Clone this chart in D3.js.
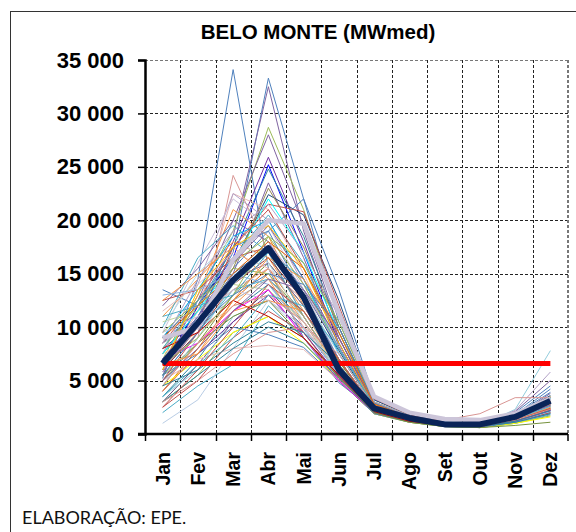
<!DOCTYPE html>
<meta charset="utf-8">
<style>
  body { margin: 0; background: #fff; }
  text { font-family: "Liberation Sans", Arial, sans-serif; }
</style>
<script src="https://d3js.org/d3.v7.min.js"></script>
<div id="chart"></div>
<script>
  // months and y ticks
  var months = ["Jan", "Fev", "Mar", "Abr", "Mai", "Jun", "Jul", "Ago", "Set", "Out", "Nov", "Dez"];
  var yTicks = [0, 5000, 10000, 15000, 20000, 25000, 30000, 35000];

  // past years (MWmed)
  var pastYears = [
    [5200, 14500, 34100, 15500, 9000, 4800, 2200, 1400, 900, 800, 1500, 3200],
    [6000, 11000, 17000, 33300, 22000, 10500, 3200, 1800, 1100, 1000, 1800, 4200],
    [5500, 12000, 18500, 32500, 19000, 9500, 3000, 1700, 1000, 900, 1600, 3800],
    [7000, 13000, 19000, 28700, 21000, 11000, 3000, 1700, 1000, 900, 1700, 3500],
    [6500, 12500, 20000, 28000, 19500, 10000, 2900, 1600, 1000, 900, 1700, 3400],
    [8000, 10500, 18000, 25900, 18000, 9000, 2600, 1500, 900, 800, 1500, 3000],
    [6000, 12000, 16500, 25200, 17000, 8500, 2500, 1500, 900, 800, 1400, 2800],
    [7500, 11500, 17500, 24800, 18500, 10000, 2800, 1600, 1000, 900, 1600, 3300],
    [5800, 10000, 15000, 23500, 16500, 8200, 2500, 1400, 900, 800, 1500, 3000],
    [9000, 12500, 16000, 22400, 20500, 12500, 3200, 1800, 1000, 900, 1700, 3600],
    [7000, 11000, 15500, 19000, 22000, 13500, 3400, 1900, 1100, 1000, 1800, 3900],
    [8500, 12500, 17500, 21500, 20800, 12000, 3300, 1800, 1000, 900, 1600, 3400],
    [4500, 9000, 24200, 17000, 11000, 6000, 2300, 1400, 900, 800, 1400, 2600],
    [6000, 11500, 22500, 21000, 15000, 8000, 2600, 1500, 900, 800, 1500, 2900],
    [7500, 14000, 22500, 20000, 14000, 7500, 2500, 1500, 900, 800, 1500, 3000],
    [9500, 16000, 22000, 19500, 13500, 7000, 2400, 1400, 900, 800, 1400, 2800],
    [6500, 13000, 21000, 18500, 12000, 6500, 2400, 1400, 900, 800, 1400, 2700],
    [12000, 15500, 20000, 18000, 12500, 6500, 2300, 1400, 900, 800, 1500, 2900],
    [13500, 12000, 17500, 19000, 13000, 7000, 2400, 1500, 900, 800, 1600, 3100],
    [11000, 14500, 18000, 16500, 11500, 6200, 2300, 1400, 900, 800, 1500, 2700],
    [12500, 13500, 16500, 17500, 12500, 6800, 2400, 1400, 900, 800, 1500, 3000],
    [10000, 16500, 19500, 17000, 11000, 6000, 2200, 1300, 800, 700, 1300, 2500],
    [9000, 13500, 18500, 20000, 14500, 7500, 2500, 1500, 900, 800, 1500, 2900],
    [8000, 12000, 16000, 18500, 14000, 8000, 2600, 1500, 900, 800, 1600, 3000],
    [7000, 10500, 15000, 17500, 13500, 7800, 2500, 1500, 900, 800, 1500, 2800],
    [6000, 9500, 14000, 16500, 12500, 7000, 2400, 1400, 900, 800, 1400, 2600],
    [5000, 8500, 13000, 16000, 12000, 6800, 2300, 1400, 800, 700, 1300, 2400],
    [4000, 8000, 12500, 15500, 11000, 6000, 2200, 1300, 800, 700, 1200, 2200],
    [3500, 7000, 11500, 14000, 10500, 5800, 2100, 1300, 800, 700, 1200, 2100],
    [3000, 6500, 10500, 13500, 10000, 5500, 2000, 1200, 800, 700, 1100, 2000],
    [2000, 4500, 6500, 12000, 9000, 5000, 1900, 1200, 700, 600, 1000, 1800],
    [1000, 3200, 8000, 12500, 9500, 5200, 2000, 1200, 800, 700, 1100, 1900],
    [2500, 5000, 9000, 11500, 9500, 5200, 2000, 1200, 800, 700, 1200, 2000],
    [3000, 5500, 9500, 11000, 9000, 5000, 1900, 1100, 700, 600, 1000, 1700],
    [4500, 7000, 9500, 11000, 8500, 5000, 1900, 1100, 700, 600, 1000, 1600],
    [5500, 7500, 10000, 9300, 8100, 5000, 1900, 1100, 700, 600, 1100, 1900],
    [5000, 7000, 8000, 8300, 7900, 5000, 2400, 1300, 900, 900, 1500, 2200],
    [4500, 8500, 12000, 15000, 10500, 5500, 2000, 1200, 800, 700, 1200, 2300],
    [5500, 9500, 13500, 14500, 11500, 6500, 2300, 1400, 900, 800, 1400, 2600],
    [6500, 10500, 13500, 15500, 12500, 7000, 2400, 1400, 900, 800, 1500, 2800],
    [8500, 11500, 14500, 16000, 12000, 6500, 2300, 1400, 900, 800, 1400, 2700],
    [9500, 12500, 15500, 15000, 11000, 6000, 2200, 1300, 800, 700, 1300, 2500],
    [10500, 11500, 14000, 13500, 10500, 6000, 2200, 1300, 800, 700, 1300, 2400],
    [7500, 9500, 12000, 13000, 10500, 6200, 2300, 1400, 900, 800, 1400, 2600],
    [3500, 6000, 11000, 12500, 10000, 5700, 2100, 1300, 800, 700, 1200, 2100],
    [7000, 8500, 11500, 13500, 9000, 5000, 2000, 1200, 800, 700, 1200, 2200],
    [8000, 12500, 16500, 20500, 16000, 9000, 2900, 1700, 1000, 900, 1700, 3400],
    [7500, 11500, 16000, 22000, 17000, 9500, 2800, 1600, 1000, 900, 1700, 3300],
    [6000, 10000, 15500, 23000, 17500, 10000, 2900, 1700, 1000, 900, 1700, 3500],
    [5000, 9500, 17500, 21000, 15500, 9000, 2800, 1600, 1000, 900, 1600, 3200],
    [10000, 15000, 18500, 16000, 10500, 5800, 2200, 1300, 800, 700, 1300, 2500],
    [11500, 14000, 17000, 15500, 10000, 5500, 2100, 1300, 800, 700, 1200, 2300],
    [12500, 15000, 17500, 14500, 9500, 5300, 2100, 1300, 800, 700, 1300, 2400],
    [13000, 13500, 15000, 14000, 9800, 5600, 2200, 1300, 800, 700, 1400, 2600],
    [8500, 10500, 12500, 14500, 11000, 6200, 2300, 1400, 900, 800, 1500, 2900],
    [4000, 7500, 10500, 13000, 9500, 5400, 2000, 1200, 800, 700, 1200, 2200],
    [3000, 5500, 8000, 10000, 8500, 5200, 2000, 1200, 800, 700, 1100, 1900],
    [5500, 8500, 11000, 12500, 9000, 5300, 2000, 1100, 700, 600, 800, 1100],
    [4500, 9000, 14000, 17000, 13000, 7500, 2600, 1500, 900, 800, 2300, 7800],
    [6000, 10000, 15000, 18000, 13500, 8000, 2700, 1600, 1000, 900, 2200, 5800],
    [7000, 11000, 16000, 19500, 14500, 8500, 2700, 1600, 1000, 900, 2100, 5000],
    [5500, 9500, 14500, 17000, 12500, 7000, 2500, 1500, 900, 850, 2000, 4500],
    [4500, 8500, 12000, 13000, 10500, 6500, 2600, 1500, 1300, 1900, 3400, 3400],
    [8000, 9500, 12500, 11000, 9000, 5500, 2100, 1200, 800, 700, 1300, 2300],
    [6500, 7500, 11500, 12500, 11500, 7000, 2400, 1400, 900, 800, 1400, 2500],
    [11000, 12000, 13000, 17000, 14500, 8000, 2600, 1500, 900, 800, 1500, 2800],
    [9500, 11000, 13500, 12500, 10000, 6200, 2300, 1400, 900, 800, 1400, 2600],
    [6000, 13500, 17500, 19500, 15500, 8500, 2700, 1600, 900, 800, 1500, 2900],
    [3500, 6500, 9000, 13000, 12000, 8000, 2600, 1500, 900, 800, 1400, 2600],
    [4000, 7500, 12500, 16500, 14500, 9500, 2800, 1600, 1000, 900, 1500, 2800],
    [6500, 9000, 13000, 18500, 16000, 10500, 3000, 1700, 1000, 900, 1600, 3000],
    [5000, 8000, 11500, 14500, 13500, 9000, 2700, 1600, 900, 800, 1500, 2700],
    [2500, 6000, 10000, 14000, 11500, 7000, 2300, 1400, 800, 700, 1300, 2400],
    [7000, 10000, 13000, 15000, 14000, 10000, 2900, 1700, 1000, 900, 1600, 2900],
    [3000, 5000, 7500, 9500, 10000, 7500, 2500, 1400, 900, 800, 1300, 2300],
    [8500, 14500, 19000, 21500, 17000, 11000, 3000, 1700, 1000, 900, 1700, 3200],
    [4500, 6000, 8500, 10500, 9500, 6500, 2300, 1300, 800, 700, 1200, 2200],
    [9000, 12000, 15000, 18000, 15500, 9500, 2800, 1600, 1000, 900, 1600, 3000]
  ];

  var lavenderSeries = [9000, 10000, 16300, 20000, 19700, 11300, 3500, 2000, 1400, 1300, 1900, 3300];
  var averageSeries = [6600, 10400, 14400, 17400, 12800, 6000, 2400, 1500, 900, 900, 1600, 3100];
  var referenceLevel = 6600;

  var palette = ["#4F81BD", "#4F81BD", "#8064A2", "#9BBB59", "#8064A2", "#7030A0", "#0000FF", "#31859C",
    "#8064A2", "#1F497D", "#4F81BD", "#C0504D", "#D99694", "#E6B9B8", "#B3A2C7", "#CCC1DA", "#F79646",
    "#8064A2", "#4F81BD", "#F79646", "#C0504D", "#4BACC6", "#00B0F0", "#9BBB59", "#1F497D", "#953735",
    "#77933C", "#E46C0A", "#31859C", "#604A7B", "#4BACC6", "#B9CDE5", "#C0504D", "#9BBB59", "#FFFF00",
    "#4F81BD", "#E6B9B8", "#F79646", "#4BACC6", "#D99694", "#8064A2", "#9BBB59", "#C3D69B", "#FAC090",
    "#92CDDC", "#FF00FF", "#4BACC6", "#00FFFF", "#948A54", "#C0504D", "#B7DEE8", "#E6B9B8", "#F79646",
    "#8DB4E2", "#A6A6A6", "#7030A0", "#31859C", "#76923C", "#93CDDD", "#B3A2C7", "#8064A2", "#4F81BD",
    "#D99694", "#C00000", "#F79646", "#4BACC6", "#CCC1DA", "#FFC000", "#4BACC6", "#F79646", "#9BBB59",
    "#8064A2", "#C0504D", "#4F81BD", "#D99694", "#B3A2C7", "#31859C", "#E46C0A"];

  var width = 576, height = 532;
  var plot = { left: 145, right: 568, top: 60, bottom: 434 };

  var svg = d3.select("#chart").append("svg")
    .attr("width", width)
    .attr("height", height);

  // outer frame
  svg.append("rect")
    .attr("x", 10.5).attr("y", 11.5)
    .attr("width", 600).attr("height", 600)
    .attr("fill", "none").attr("stroke", "#333").attr("stroke-width", 1);

  svg.append("text")
    .attr("x", 318).attr("y", 39)
    .attr("text-anchor", "middle")
    .style("font-weight", "bold").style("font-size", "20.5px")
    .text("BELO MONTE (MWmed)");

  var x = d3.scaleBand()
    .domain(months)
    .range([plot.left, plot.right])
    .paddingInner(0).paddingOuter(0);

  var y = d3.scaleLinear()
    .domain([0, 35000])
    .range([plot.bottom, plot.top]);

  var cx = function (m) { return x(m) + x.bandwidth() / 2; };

  // grid
  var grid = svg.append("g").attr("class", "grid");
  grid.selectAll("line.h")
    .data(yTicks.filter(function (d) { return d > 0; }))
    .enter().append("line")
    .attr("x1", plot.left).attr("x2", plot.right)
    .attr("y1", function (d) { return Math.round(y(d)) + 0.5; })
    .attr("y2", function (d) { return Math.round(y(d)) + 0.5; })
    .attr("stroke", function (d) { return d === 35000 ? "#777" : "#222"; })
    .attr("stroke-dasharray", "3,2");
  grid.selectAll("line.v")
    .data(months.slice(1).concat(["end"]))
    .enter().append("line")
    .attr("x1", function (d) { return d === "end" ? plot.right : Math.round(x(d)) + 0.5; })
    .attr("x2", function (d) { return d === "end" ? plot.right : Math.round(x(d)) + 0.5; })
    .attr("y1", plot.top).attr("y2", plot.bottom)
    .attr("stroke", function (d) { return d === "end" ? "#777" : "#222"; })
    .attr("stroke-width", function (d) { return d === "end" ? 2 : 1; })
    .attr("stroke-dasharray", "3,2");

  var line = d3.line()
    .x(function (d, i) { return cx(months[i]); })
    .y(function (d) { return y(d); });

  // past years, thin lines
  svg.append("g").selectAll("path")
    .data(pastYears)
    .enter().append("path")
    .attr("d", line)
    .attr("fill", "none")
    .attr("stroke", function (d, i) { return palette[i % palette.length]; })
    .attr("stroke-width", 1);

  svg.append("path")
    .datum(lavenderSeries)
    .attr("d", line)
    .attr("fill", "none")
    .attr("stroke", "#CCC5D9")
    .attr("stroke-width", 4.5);

  svg.append("path")
    .datum(months.map(function () { return referenceLevel; }))
    .attr("d", line)
    .attr("fill", "none")
    .attr("stroke", "#FF0000")
    .attr("stroke-width", 5);

  svg.append("path")
    .datum(averageSeries)
    .attr("d", line)
    .attr("fill", "none")
    .attr("stroke", "#0A2458")
    .attr("stroke-width", 6)
    .attr("stroke-linejoin", "round");

  // axes
  var yAxis = svg.append("g")
    .attr("transform", "translate(" + plot.left + ",0)")
    .call(d3.axisLeft(y).tickValues(yTicks).tickSize(7).tickPadding(14)
      .tickFormat(function (d) { return d3.format(",")(d).replace(",", " "); }));
  yAxis.select(".domain").attr("stroke-width", 2.5);
  yAxis.selectAll(".tick line").attr("stroke-width", 1.5);
  yAxis.selectAll("text")
    .style("font-family", "'Liberation Sans', Arial, sans-serif")
    .style("font-weight", "bold").style("font-size", "22px").attr("fill", "#000");

  var xAxis = svg.append("g")
    .attr("transform", "translate(0," + plot.bottom + ")")
    .call(d3.axisBottom(x).tickSize(0).tickPadding(0));
  xAxis.select(".domain").attr("stroke-width", 2.5).attr("d", "M138,0H568");
  xAxis.selectAll(".tick text")
    .attr("transform", "rotate(-90)")
    .attr("x", -18).attr("y", 0).attr("dy", "0.36em")
    .style("text-anchor", "end")
    .style("font-family", "'Liberation Sans', Arial, sans-serif")
    .style("font-weight", "bold").style("font-size", "19.5px").attr("fill", "#000");
  svg.append("g").selectAll("line")
    .data(months.concat(["end"]))
    .enter().append("line")
    .attr("x1", function (d) { return d === "end" ? plot.right : Math.round(x(d)) + 0.5; })
    .attr("x2", function (d) { return d === "end" ? plot.right : Math.round(x(d)) + 0.5; })
    .attr("y1", plot.bottom).attr("y2", plot.bottom + 7)
    .attr("stroke", "#000").attr("stroke-width", 1.5);

  svg.append("text")
    .attr("x", 22).attr("y", 524)
    .style("font-family", "Lato, 'Open Sans', sans-serif")
    .style("font-size", "18px")
    .attr("fill", "#111")
    .text("ELABORAÇÃO: EPE.");
</script>
